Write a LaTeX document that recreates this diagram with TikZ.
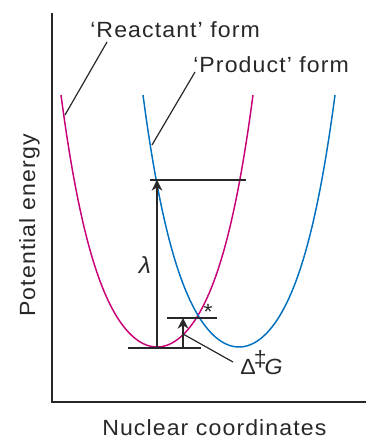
\documentclass[tikz,border=0pt]{standalone}
\usepackage{fontspec}
\setmainfont{Liberation Sans}[FakeStretch=1.05,LetterSpace=5]
\usetikzlibrary{arrows.meta}
\definecolor{reactcol}{RGB}{200,0,120}
\definecolor{prodcol}{RGB}{0,112,192}
\definecolor{ink}{RGB}{40,40,40}
\begin{document}
\begin{tikzpicture}[x=0.75pt, y=-0.75pt,
    lne/.style={draw=ink, line width=0.9pt},
    arr/.style={-{Stealth[length=8pt, width=8pt]}, draw=ink, fill=ink, line width=0.9pt},
    txt/.style={font=\fontsize{16.5}{19}\selectfont, inner sep=0pt, text=ink},
    curv/.style={line width=1.1pt, domain=-1:1, samples=80, smooth}
]
\useasboundingbox (0,0) rectangle (366,439);
\coordinate (ytop) at (52,13);
\coordinate (origin) at (52,402);
\coordinate (xend) at (366,402);
\draw[lne] (ytop) -- (origin) -- (xend);

\draw[curv, draw=reactcol] plot ({157+96*\x}, {347-163*\x*\x-89*\x*\x*\x*\x*sqrt(abs(\x))});
\draw[curv, draw=prodcol] plot ({239+96*\x}, {347-163*\x*\x-89*\x*\x*\x*\x*sqrt(abs(\x))});

\coordinate (hiL) at (150,180);
\coordinate (hiR) at (246,180);
\coordinate (loL) at (128,348);
\coordinate (loR) at (201,348);
\coordinate (tsL) at (167,318);
\coordinate (tsR) at (217,318);
\coordinate (lamtop) at (157,180);
\coordinate (lambot) at (157,348);
\coordinate (dgtop) at (183,318);
\coordinate (dgbot) at (183,348);
\coordinate (dgmid) at (183,334);
\coordinate (rpt) at (65,115);
\coordinate (rtag) at (107,42);
\coordinate (ppt) at (152,145);
\coordinate (ptag) at (195,72);
\coordinate (dgtag) at (233,362);

\draw[lne] (hiL) -- (hiR);
\draw[lne] (loL) -- (loR);
\draw[lne] (tsL) -- (tsR);
\draw[arr] (lambot) -- (lamtop);
\draw[arr] (dgbot) -- (dgtop);

\node[txt, anchor=base west] (react) at (90,37) {‘Reactant’ form};
\node[txt, anchor=base west] (prod) at (193,72) {‘Product’ form};
\node[txt, anchor=base west, rotate=90] (ylab) at (35,317) {Potential energy};
\node[txt, anchor=base west] (xlab) at (102,435) {Nuclear coordinates};
\node[txt, font=\fontsize{17.5}{19}\selectfont\itshape] (lam) at (145,265) {λ};
\node[txt] (star) at (208,312) {*};
\node[txt, anchor=base west] (dg) at (240,374) {Δ\kern-0.08em\raisebox{0.35em}{‡}\kern-0.1em\textit{G}};

\draw[lne] (rtag) -- (rpt);
\draw[lne] (ptag) -- (ppt);
\draw[lne] (dgtag) -- (dgmid);
\end{tikzpicture}
\end{document}
